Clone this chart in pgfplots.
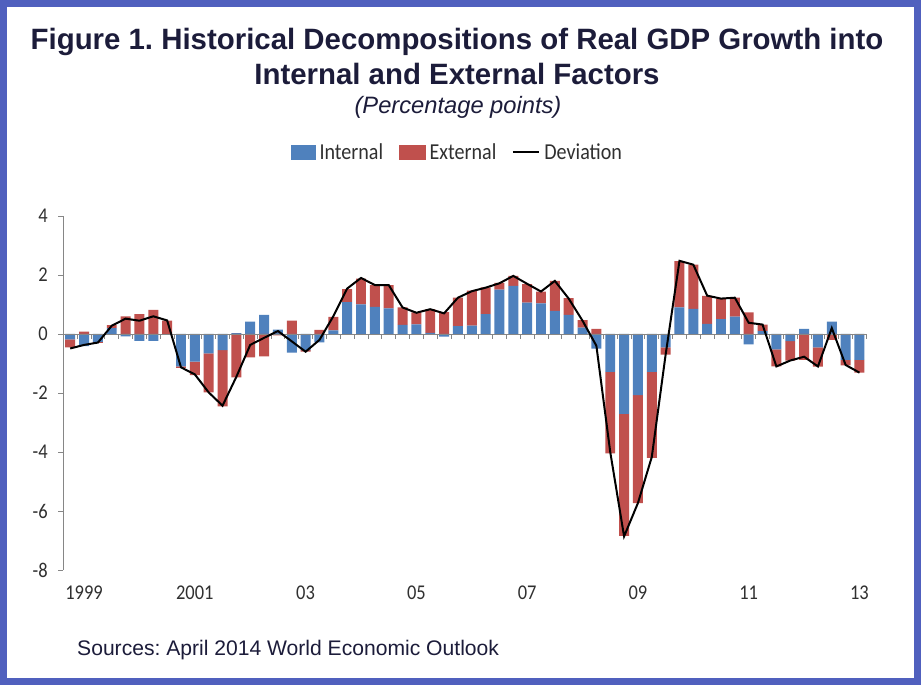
\documentclass[border=0pt]{standalone}
\usepackage{pgfplots}
\pgfplotsset{compat=1.18}
\usepackage{pgfplotstable}
\usepackage{fontspec}
\setmainfont{Carlito}
\newfontfamily\tickfont[FakeStretch=0.88]{Carlito}
\newfontfamily\arialfont{Liberation Sans}
\definecolor{intblue}{HTML}{4F81BD}
\definecolor{extred}{HTML}{C0504D}
\definecolor{frameblue}{RGB}{80,96,190}
\definecolor{titlecol}{RGB}{28,28,58}
\definecolor{axisgray}{HTML}{868686}
\definecolor{labelcol}{HTML}{303030}

\pgfplotstableread{
x ip ep in en dev
0 0 0 -0.18 -0.27 -0.49
1 0 0.08 -0.41 0 -0.37
2 0 0 -0.27 -0.03 -0.29
3 0.20 0.10 0 0 0.28
4 0 0.60 -0.08 0 0.52
5 0 0.67 -0.23 0 0.45
6 0 0.82 -0.23 0 0.60
7 0 0.45 0 0 0.46
8 0 0 -1.10 -0.05 -1.13
9 0 0 -0.94 -0.45 -1.37
10 0 0 -0.66 -1.32 -1.98
11 0 0 -0.55 -1.90 -2.43
12 0.03 0 0 -1.47 -1.45
13 0.42 0 0 -0.79 -0.37
14 0.65 0 0 -0.76 -0.13
15 0.15 0 0 -0.05 0.10
16 0 0.45 -0.63 0 -0.25
17 0 0 -0.55 -0.05 -0.60
18 0 0.14 -0.28 0 -0.20
19 0.12 0.46 0 0 0.60
20 1.08 0.44 0 0 1.54
21 1.00 0.88 0 0 1.90
22 0.92 0.74 0 0 1.66
23 0.87 0.79 0 0 1.66
24 0.31 0.59 0 0 0.90
25 0.33 0.40 0 0 0.72
26 0.04 0.80 0 0 0.84
27 0 0.74 -0.09 0 0.70
28 0.27 0.96 0 0 1.23
29 0.28 1.19 0 0 1.45
30 0.67 0.91 0 0 1.57
31 1.50 0.23 0 0 1.72
32 1.63 0.34 0 0 1.97
33 1.06 0.63 0 0 1.70
34 1.04 0.40 0 0 1.44
35 0.78 1.02 0 0 1.80
36 0.65 0.57 0 0 1.20
37 0.22 0.25 0 0 0.45
38 0 0.17 -0.50 0 -0.40
39 0 0 -1.28 -2.77 -4.00
40 0 0 -2.71 -4.13 -6.86
41 0 0 -2.07 -3.66 -5.73
42 0 0 -1.28 -2.92 -4.17
43 0 0 -0.45 -0.25 -0.70
44 0.90 1.57 0 0 2.48
45 0.85 1.50 0 0 2.35
46 0.34 0.95 0 0 1.30
47 0.50 0.70 0 0 1.20
48 0.59 0.64 0 0 1.23
49 0 0.73 -0.35 0 0.38
50 0.10 0.22 0 0 0.32
51 0 0 -0.52 -0.58 -1.10
52 0 0 -0.24 -0.66 -0.90
53 0.17 0 0 -0.88 -0.77
54 0 0 -0.45 -0.66 -1.10
55 0.42 0 0 -0.20 0.20
56 0 0 -0.88 -0.18 -1.05
57 0 0 -0.88 -0.43 -1.31
}\gdp

\pgfplotsset{
  base/.style={
    width=803.1pt, height=354pt, scale only axis,
    at={(63.3pt,115pt)}, anchor=south west,
    xmin=-0.5, xmax=57.5, ymin=-8, ymax=4,
  },
}

\begin{document}
\frenchspacing
\begin{tikzpicture}
\fill[frameblue] (0,0) rectangle (921pt,685pt);
\fill[white] (7pt,7pt) rectangle (914pt,678pt);

% positive parts
\begin{axis}[base, ybar stacked, bar width=0.72, hide axis]
\addplot[fill=intblue, draw=none] table[x=x,y=ip]{\gdp};
\addplot[fill=extred, draw=none] table[x=x,y=ep]{\gdp};
\end{axis}

% negative parts and axes
\begin{axis}[base, ybar stacked, bar width=0.72,
  axis y line=left, axis x line=bottom,
  x axis line style={draw=none},
  y axis line style={draw=axisgray, line width=0.8pt, -},
  xtick={1,9,...,57},
  xticklabels={1999,2001,03,05,07,09,11,13},
  x tick style={draw=none},
  ytick={-8,-6,...,4},
  y tick style={draw=axisgray, line width=0.8pt},
  major tick length=5pt, tick align=outside,
  /pgf/number format/assume math mode=true,
  tick label style={font=\tickfont\fontsize{21}{24}\selectfont, text=labelcol},
  xticklabel style={yshift=-7pt},
  yticklabel style={xshift=-7pt}]
\addplot[fill=intblue, draw=none] table[x=x,y=in]{\gdp};
\addplot[fill=extred, draw=none] table[x=x,y=en]{\gdp};
\end{axis}

% zero line with category ticks (axis whose bottom is y = 0)
\begin{axis}[width=803.1pt, height=118pt, scale only axis,
  at={(63.3pt,351pt)}, anchor=south west,
  xmin=-0.5, xmax=57.5, ymin=0, ymax=4,
  axis x line=bottom, axis y line=none,
  x axis line style={draw=axisgray, line width=0.8pt, -},
  xtick={-0.5,0.5,...,57.5}, xticklabels={},
  x tick style={draw=axisgray, line width=0.8pt},
  major tick length=5pt, tick align=outside]
\end{axis}

% deviation line and legend
\begin{axis}[base, hide axis,
  legend columns=3,
  legend style={at={(0.4909,1.1808)}, anchor=center, draw=none, fill=none,
    font=\tickfont\fontsize{22.8}{26}\selectfont, text=labelcol,
    /tikz/every even column/.append style={column sep=13pt},
    /tikz/every odd column/.append style={column sep=2pt},
    nodes={inner sep=2.5pt}},
  ]
\addlegendimage{legend image code/.code={\fill[intblue] (0pt,-7pt) rectangle (24pt,7pt);}}
\addlegendentry{Internal}
\addlegendimage{legend image code/.code={\fill[extred] (0pt,-7pt) rectangle (26pt,7pt);}}
\addlegendentry{External}
\addplot[black, line width=2pt, mark=none,
  legend image code/.code={\draw[black, line width=2pt] (0pt,0pt) -- (26pt,0pt);}]
  table[x=x,y=dev]{\gdp};
\addlegendentry{Deviation}
\end{axis}

\node[anchor=base, font=\arialfont\bfseries\fontsize{29.4}{34}\selectfont, text=titlecol]
  at (457pt,635pt) {Figure 1. Historical Decompositions of Real GDP Growth into};
\node[anchor=base, font=\arialfont\bfseries\fontsize{29.4}{34}\selectfont, text=titlecol]
  at (457pt,600pt) {Internal and External Factors};
\node[anchor=base, font=\arialfont\itshape\fontsize{23.7}{28}\selectfont, text=titlecol]
  at (458pt,571pt) {(Percentage points)};
\node[anchor=base west, inner sep=0pt, font=\arialfont\fontsize{21.1}{25}\selectfont, text=titlecol]
  at (77pt,29pt) {Sources: April 2014 World Economic Outlook};
\end{tikzpicture}
\end{document}
